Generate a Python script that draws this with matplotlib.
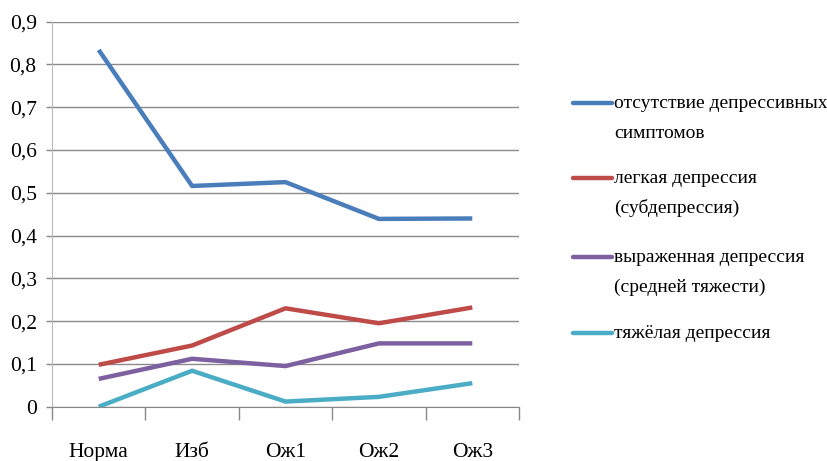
import matplotlib
matplotlib.use("Agg")
import matplotlib.pyplot as plt
from matplotlib.lines import Line2D

categories = ["Норма", "Изб", "Ож1", "Ож2", "Ож3"]
no_symptoms = [0.834, 0.516, 0.525, 0.439, 0.440]
mild = [0.098, 0.143, 0.230, 0.195, 0.232]
moderate = [0.065, 0.112, 0.095, 0.148, 0.148]
severe = [0.0, 0.084, 0.012, 0.023, 0.055]
series_labels = ["отсутствие депрессивных\nсимптомов",
                 "легкая депрессия\n(субдепрессия)",
                 "выраженная депрессия\n(средней тяжести)",
                 "тяжёлая депрессия"]
colors = ["#4A7EBB", "#BE4B48", "#7D60A0", "#4AACC5"]
yticks = [0.0, 0.1, 0.2, 0.3, 0.4, 0.5, 0.6, 0.7, 0.8, 0.9]
ytick_labels = ["0", "0,1", "0,2", "0,3", "0,4", "0,5", "0,6", "0,7", "0,8", "0,9"]

plt.rcParams['font.family'] = ['Liberation Serif', 'DejaVu Serif']

fig = plt.figure(figsize=(8.27, 4.61), dpi=100)
ax = fig.add_axes([52/827, 1-406.7/461, (519-52)/827, (406.7-21.7)/461])

x = list(range(len(categories)))
for vals, c in zip([no_symptoms, mild, moderate, severe], colors):
    ax.plot(x, vals, color=c, lw=3.2, solid_capstyle='butt', solid_joinstyle='round', zorder=3)

ax.set_xlim(-0.5, len(categories) - 0.5)
ax.set_ylim(0, 0.9)
ax.set_yticks(yticks)
ax.set_yticklabels(ytick_labels, fontsize=15.5)
ax.set_xticks(x)
ax.set_xticklabels(categories, fontsize=15.5)
ax.set_xticks([i - 0.5 for i in range(len(categories) + 1)], minor=True)
ax.tick_params(axis='x', which='major', length=0, pad=26)
ax.tick_params(axis='x', which='minor', length=9, color='#888888', width=1)
ax.tick_params(axis='y', which='major', length=4, color='#888888', width=1, pad=7)
ax.grid(axis='y', color='#8a8a8a', lw=1)
ax.set_axisbelow(True)
for s in ['top', 'right']:
    ax.spines[s].set_visible(False)
ax.spines['left'].set_color('#bbbbbb')
ax.spines['bottom'].set_color('#888888')

# legend
entries_y = [103, 178, 257, 333]
for lab, c, yy in zip(series_labels, colors, entries_y):
    fy = 1 - yy/461
    fig.add_artist(Line2D([573/827, 612/827], [fy, fy], color=c, lw=3.2,
                          solid_capstyle='round', transform=fig.transFigure))
    lines = lab.split("\n")
    for k, ln in enumerate(lines):
        fig.text(614/827, 1 - (yy + 30*k)/461, ln, fontsize=14, ha='left', va='center')

fig.savefig("out.png", dpi=100)
